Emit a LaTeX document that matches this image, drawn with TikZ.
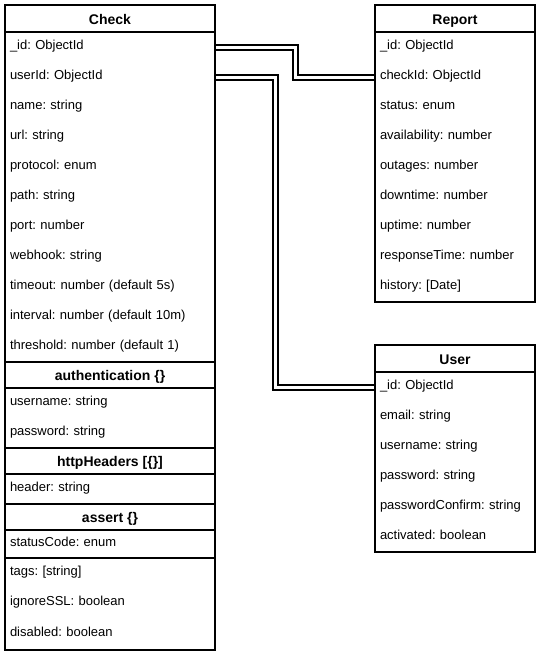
\documentclass[tikz,border=0pt]{standalone}
\usepackage{fontspec}
\setmainfont{Liberation Sans}
\frenchspacing

\begin{document}
\begin{tikzpicture}[
  x=1pt, y=1pt,
  every node/.style={font=\fontsize{13}{15}\selectfont, inner sep=0pt, outer sep=0pt},
  title/.style={draw, line width=2.2pt, anchor=north west, minimum width=#1,
    minimum height=27pt, text height=12pt, text depth=1pt,
    font=\fontsize{14}{16}\selectfont\bfseries},
  title/.default=210pt,
  subtitle/.style={title, minimum height=26pt},
  field/.style={anchor=north west, minimum height=30pt, text width=#1,
    text height=9pt, text depth=4pt, align=left, inner xsep=5pt},
  field/.default=200pt,
  box/.style={draw, line width=2.2pt},
  link/.style={double, line width=2pt, double distance=3pt,
    shorten <=1pt, shorten >=1pt}
]

\useasboundingbox (0,0) rectangle (541,-657);

% Column positions
\def\cx{5}    % Check table left
\def\rx{375}  % Report / User table left

% ============================================================
% CHECK
% ============================================================
\node[title] (check) at (\cx,-5) {Check};
\foreach \n/\t [count=\i from 0] in {
    id/{\_id: ObjectId}, userid/{userId: ObjectId}, name/{name: string},
    url/{url: string}, protocol/{protocol: enum}, path/{path: string},
    port/{port: number}, webhook/{webhook: string},
    timeout/{timeout: number (default 5s)},
    interval/{interval: number (default 10m)},
    threshold/{threshold: number (default 1)}}{
  \node[field] (check-\n) at (\cx,-32-30*\i) {\t};
}
\draw[box] (check-id.north west) rectangle (check-threshold.south east);

% authentication {}
\node[subtitle] (auth) at (\cx,-362) {authentication \{\}};
\node[field] (auth-username) at (\cx,-388) {username: string};
\node[field] (auth-password) at (\cx,-418) {password: string};
\draw[box] (auth-username.north west) rectangle (auth-password.south east);

% httpHeaders [{}]
\node[subtitle] (headers) at (\cx,-448) {httpHeaders [\{\}]};
\node[field] (headers-header) at (\cx,-474) {header: string};
\draw[box] (headers-header.north west) rectangle (headers-header.south east);

% assert {}
\node[subtitle] (assert) at (\cx,-504) {assert \{\}};
\node[field, minimum height=28pt] (assert-status) at (\cx,-530) {statusCode: enum};
\draw[box] (assert-status.north west) rectangle (assert-status.south east);

% remaining fields
\node[field] (check-tags) at (\cx,-558) {tags: [string]};
\node[field] (check-ignoressl) at (\cx,-588) {ignoreSSL: boolean};
\node[field, minimum height=32pt] (check-disabled) at (\cx,-618) {disabled: boolean};
\draw[box] (check-tags.north west) rectangle (check-disabled.south east);

% ============================================================
% REPORT
% ============================================================
\node[title=160pt] (report) at (\rx,-5) {Report};
\foreach \n/\t [count=\i from 0] in {
    id/{\_id: ObjectId}, checkid/{checkId: ObjectId}, status/{status: enum},
    availability/{availability: number}, outages/{outages: number},
    downtime/{downtime: number}, uptime/{uptime: number},
    responsetime/{responseTime: number}, history/{history: [Date]}}{
  \node[field=150pt] (report-\n) at (\rx,-32-30*\i) {\t};
}
\draw[box] (report-id.north west) rectangle (report-history.south east);

% ============================================================
% USER
% ============================================================
\node[title=160pt] (user) at (\rx,-345) {User};
\foreach \n/\t [count=\i from 0] in {
    id/{\_id: ObjectId}, email/{email: string}, username/{username: string},
    password/{password: string}, passwordconfirm/{passwordConfirm: string},
    activated/{activated: boolean}}{
  \node[field=150pt] (user-\n) at (\rx,-372-30*\i) {\t};
}
\draw[box] (user-id.north west) rectangle (user-activated.south east);

% Relations
\draw[link] (check-id.east) -- ++(80,0) |- (report-checkid.west);
\draw[link] (check-userid.east) -- ++(60,0) |- (user-id.west);

\end{tikzpicture}
\end{document}
